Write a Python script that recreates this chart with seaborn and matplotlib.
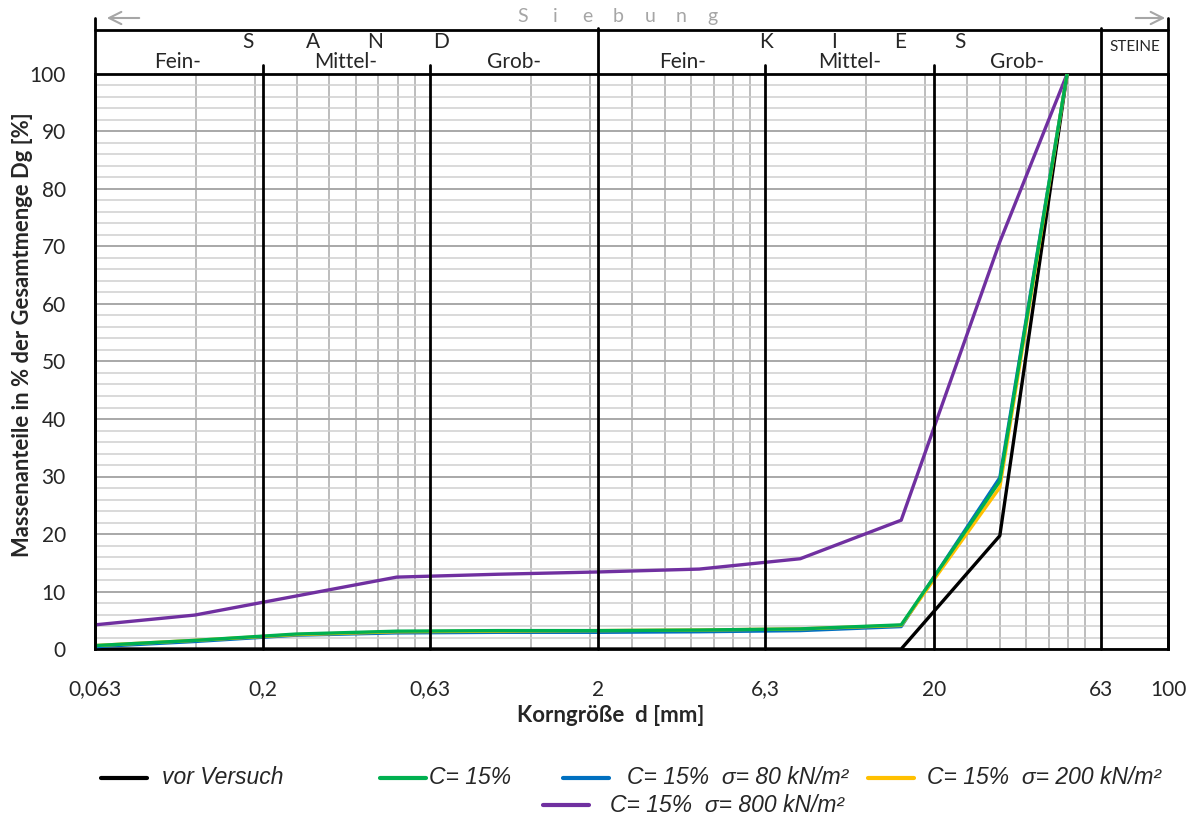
import matplotlib.pyplot as plt
import numpy as np
import pandas as pd
import seaborn as sns
from matplotlib.lines import Line2D
from matplotlib.ticker import FixedLocator, NullFormatter

sieb_d = [0.063, 0.125, 0.25, 0.5, 1, 2, 4, 8, 16, 31.5, 50]
vor_versuch = [0, 0, 0, 0, 0, 0, 0, 0, 0, 19.7, 100]
c15 = [0.6, 1.5, 2.6, 3.1, 3.2, 3.2, 3.3, 3.5, 4.2, 29.2, 100]
c15_s80 = [0.4, 1.3, 2.4, 2.8, 2.9, 2.9, 3.0, 3.2, 3.9, 29.8, 100]
c15_s200 = [0.6, 1.5, 2.5, 3.0, 3.1, 3.2, 3.3, 3.5, 4.1, 28.1, 100]
c15_s800 = [4.2, 5.9, 9.2, 12.5, 13.0, 13.4, 13.9, 15.7, 22.4, 70.8, 100]

labels = ['vor Versuch', 'C= 15%', 'C= 15%  σ= 80 kN/m²',
          'C= 15%  σ= 200 kN/m²', 'C= 15%  σ= 800 kN/m²']
colors = ['#000000', '#00B050', '#0070C0', '#FFC000', '#7030A0']
werte = [vor_versuch, c15, c15_s80, c15_s200, c15_s800]

x_ticks = [0.063, 0.2, 0.63, 2, 6.3, 20, 63, 100]
x_ticklabels = ['0,063', '0,2', '0,63', '2', '6,3', '20', '63', '100']
grenzen = [0.2, 0.63, 2, 6.3, 20, 63]

df = pd.concat([pd.DataFrame({'d': sieb_d, 'p': w, 'Serie': lab})
                for lab, w in zip(labels, werte)], ignore_index=True)

sns.set_theme(style="white")
plt.rcParams['font.family'] = ['Lato', 'DejaVu Sans']

W, H = 1195, 823
fig = plt.figure(figsize=(W / 100, H / 100), dpi=100)
ax = fig.add_axes([95 / W, 1 - 649 / H, (1168 - 95) / W, (649 - 74) / H])
ax.set_xscale('log')

# Zeichenreihenfolge: gruen zuletzt (oben)
farbe = dict(zip(labels, colors))
for lab in [labels[0], labels[4], labels[2], labels[3], labels[1]]:
    sns.lineplot(data=df[df.Serie == lab], x='d', y='p', color=farbe[lab],
                 lw=2.4, estimator=None, legend=False, ax=ax, zorder=5)

ax.set_xlim(0.063, 100)
ax.set_ylim(0, 100)

# Raster
minor_x = [0.063 * k * 10 ** n for n in range(3) for k in range(2, 10)]
minor_x = [m for m in minor_x if m < 100]
ax.set_xticks(x_ticks)
ax.set_xticklabels(x_ticklabels)
ax.xaxis.set_minor_locator(FixedLocator(minor_x))
ax.xaxis.set_minor_formatter(NullFormatter())
ax.set_yticks(range(0, 101, 10))
ax.yaxis.set_minor_locator(FixedLocator(list(range(0, 101, 2))))
ax.grid(which='minor', axis='x', color='#b8b8b8', lw=1.3)
ax.grid(which='minor', axis='y', color='#cfcfcf', lw=1.1)
ax.grid(which='major', axis='y', color='#a8a8a8', lw=1.4)
ax.grid(which='major', axis='x', visible=False)
ax.tick_params(which='minor', length=0)
ax.tick_params(axis='x', which='major', direction='out', length=11, width=2,
               color='black', labelsize=15, pad=11)
ax.tick_params(axis='y', which='major', direction='out', length=14, width=1.5,
               color='black', labelsize=15, pad=7)
for s in ax.spines.values():
    s.set_color('black')
    s.set_linewidth(2)

# Grenzlinien und Kopf (Sand / Kies / Steine)
for g in grenzen:
    top = 1.08 if g in (2, 63) else 1.0155
    ax.plot([g, g], [0, top], color='black', lw=2,
            transform=ax.get_xaxis_transform(), clip_on=False, zorder=6)
for g in (0.063, 100):
    ax.plot([g, g], [0, 1.097], color='black', lw=2,
            transform=ax.get_xaxis_transform(), clip_on=False, zorder=6)
ax.plot([0, 1], [1.0765, 1.0765], color='black', lw=2,
        transform=ax.transAxes, clip_on=False)

def px(x):
    return (x - 95) / 1073

def py(y):
    return (649 - y) / 575

for x, t in [(178, 'Fein-'), (346, 'Mittel-'), (514, 'Grob-'),
             (683, 'Fein-'), (850, 'Mittel-'), (1017, 'Grob-')]:
    ax.text(px(x), py(62), t, transform=ax.transAxes, ha='center',
            va='center', fontsize=15)
for x, t in [(248, 'S'), (313, 'A'), (375, 'N'), (441, 'D'),
             (766, 'K'), (834, 'I'), (900, 'E'), (960, 'S')]:
    ax.text(px(x), py(42), t, transform=ax.transAxes, ha='center',
            va='center', fontsize=15)
ax.text(px(1135), py(47), 'STEINE', transform=ax.transAxes, ha='center',
        va='center', fontsize=11)
for x, t in zip([523, 555, 587, 618, 650, 681, 712], 'Siebung'):
    ax.text(px(x), py(17), t, transform=ax.transAxes, ha='center',
            va='center', fontsize=14, color='#a6a6a6')
ax.annotate('', xy=(px(104), py(18)), xytext=(px(142), py(18)),
            xycoords='axes fraction', textcoords='axes fraction',
            arrowprops=dict(arrowstyle='->', color='#a6a6a6', lw=1.5,
                            mutation_scale=22), annotation_clip=False)
ax.annotate('', xy=(px(1168), py(18)), xytext=(px(1133), py(18)),
            xycoords='axes fraction', textcoords='axes fraction',
            arrowprops=dict(arrowstyle='->', color='#a6a6a6', lw=1.5,
                            mutation_scale=22), annotation_clip=False)

# Achsentitel
ax.set_xlabel('Korngröße  d [mm]', fontsize=16, fontweight='bold')
ax.xaxis.set_label_coords(px(611), -(705 - 649) / 575)
ax.set_ylabel('Massenanteile in % der Gesamtmenge Dg [%]', fontsize=15.8,
              fontweight='bold')
ax.yaxis.set_label_coords(px(33), (649 - 335) / 575)

# Legende (zwei Zeilen wie im Original)
leg_pos = [(101, 778, 162), (380, 778, 429), (563, 778, 627),
           (868, 778, 927), (543, 805, 610)]
for (x0, y0, tx), lab, c in zip(leg_pos, labels, colors):
    fig.add_artist(Line2D([x0 / W, (x0 + 46) / W], [1 - y0 / H] * 2,
                          transform=fig.transFigure, color=c, lw=3))
    fig.text(tx / W, 1 - y0 / H, lab, ha='left', va='center', fontsize=16.5,
             style='italic', family=['Liberation Sans', 'DejaVu Sans'])

fig.savefig('out.png', dpi=100)
